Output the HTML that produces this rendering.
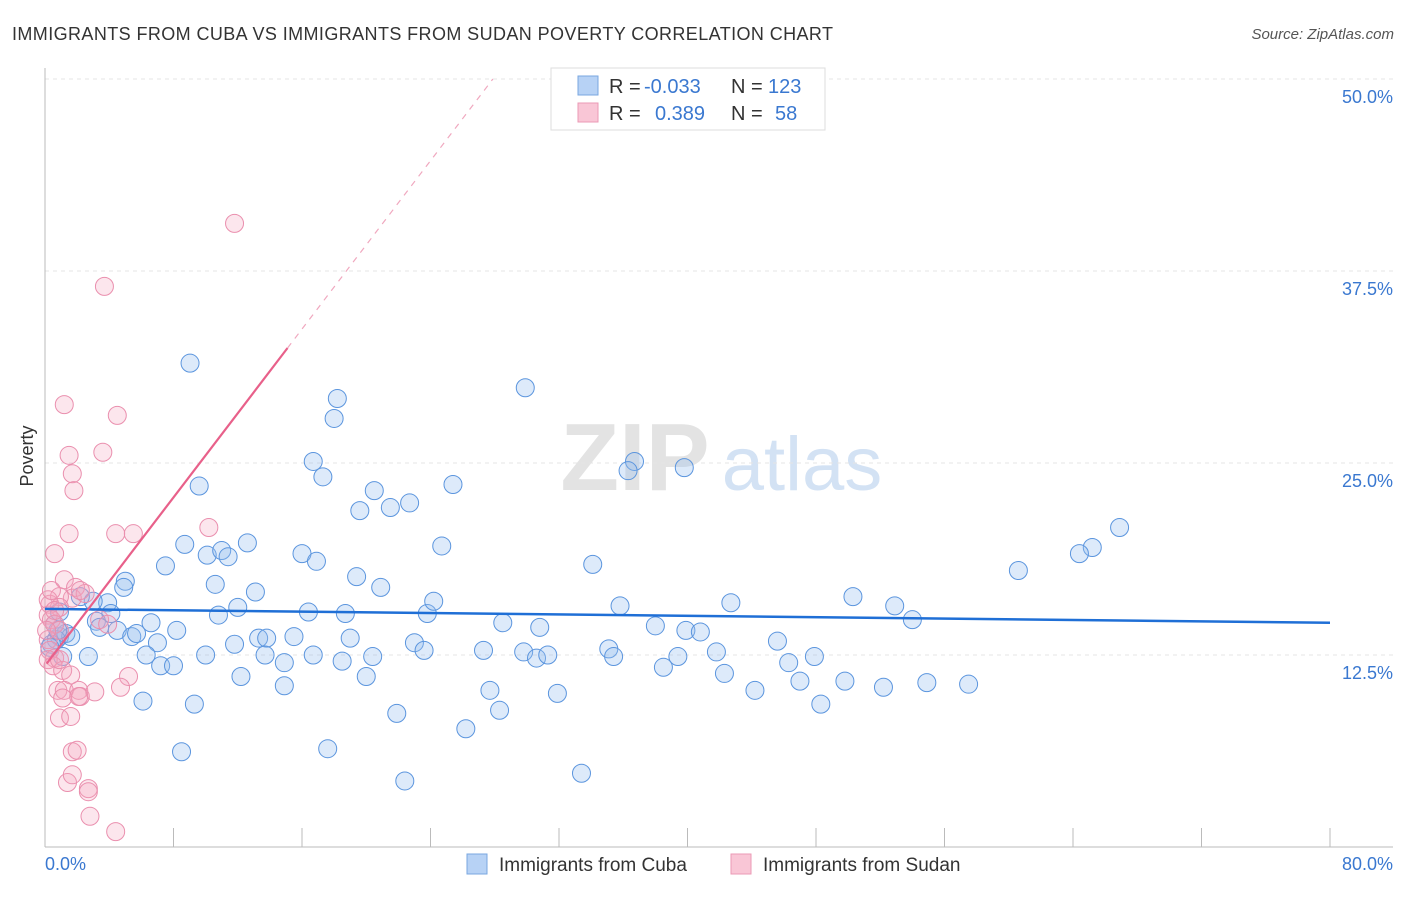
<!DOCTYPE html>
<html><head><meta charset="utf-8"><style>
body{margin:0;background:#fff;font-family:"Liberation Sans",sans-serif}
svg text{font-family:"Liberation Sans",sans-serif}
</style></head><body>
<svg id="chart" width="1406" height="892" xmlns="http://www.w3.org/2000/svg">
<text x="12" y="40" font-size="18" fill="#333" textLength="821" lengthAdjust="spacing">IMMIGRANTS FROM CUBA VS IMMIGRANTS FROM SUDAN POVERTY CORRELATION CHART</text>
<text x="1394" y="39" font-size="15" fill="#555" font-style="italic" text-anchor="end">Source: ZipAtlas.com</text>
<g>
<text x="635" y="490" font-size="96" fill="#e3e3e3" font-family="Liberation Serif" text-anchor="middle" font-weight="bold">ZIP</text>
<text x="802" y="490" font-size="76" fill="#d3e2f4" text-anchor="middle">atlas</text>
</g>
<g id="grid"></g>
<g id="axes"></g>
<g id="pts"></g>
<g id="trends"></g>
<text transform="translate(33,456) rotate(-90)" font-size="18" fill="#333" text-anchor="middle">Poverty</text>
<g>
<rect x="551" y="68" width="274" height="62" fill="#fff" stroke="#ddd"/>
<rect x="578" y="76" width="20" height="19" fill="#b7d2f5" stroke="#7aa7e0"/>
<rect x="578" y="103" width="20" height="19" fill="#f9c6d6" stroke="#eb9ab5"/>
<text x="609" y="93" font-size="20" fill="#333">R = <tspan fill="#3a78d0" x="644">-0.033</tspan></text>
<text x="731" y="93" font-size="20" fill="#333">N = <tspan fill="#3a78d0" x="768">123</tspan></text>
<text x="609" y="120" font-size="20" fill="#333">R = <tspan fill="#3a78d0" x="655">0.389</tspan></text>
<text x="731" y="120" font-size="20" fill="#333">N = <tspan fill="#3a78d0" x="775">58</tspan></text>
</g>
<g>
<rect x="467" y="854" width="20" height="20" fill="#b7d2f5" stroke="#7aa7e0"/>
<text x="499" y="871" font-size="19" fill="#333">Immigrants from Cuba</text>
<rect x="731" y="854" width="20" height="20" fill="#f9c6d6" stroke="#eb9ab5"/>
<text x="763" y="871" font-size="19" fill="#333">Immigrants from Sudan</text>
</g>
</svg>
<script>
const cubaX=[9.03,29.9,18.2,18.0,16.7,17.3,36.7,36.3,39.8,9.6,20.5,25.4,19.6,21.5,22.7,66.9,65.2,64.4,60.6,8.7,10.1,11.0,11.4,12.6,16.0,16.9,24.7,7.5,5.0,4.9,10.6,13.1,19.4,20.9,34.1,3.9,3.0,2.2,4.1,6.6,10.8,12.0,16.4,18.7,23.8,24.2,28.5,30.8,35.8,42.7,50.3,52.9,54.0,3.2,3.4,4.5,5.4,5.7,7.0,8.2,11.8,13.3,13.8,15.5,19.0,23.0,23.6,27.3,29.8,30.6,31.3,35.1,35.4,38.0,39.9,40.8,41.8,45.6,47.9,39.4,46.3,0.9,1.3,1.6,0.7,0.4,0.8,1.1,2.7,6.3,7.2,8.0,10.0,13.7,14.9,16.7,18.5,20.4,14.9,12.2,20.0,27.7,31.9,38.5,42.3,44.2,47.0,49.8,52.2,54.9,57.5,6.1,9.3,28.3,21.9,48.3,26.2,8.5,17.6,22.4,33.4,0.3,0.6,0.9];
const cubaY=[31.5,29.9,29.2,27.9,25.1,24.1,25.1,24.5,24.7,23.5,23.2,23.6,21.9,22.1,22.4,20.8,19.5,19.1,18.0,19.7,19.0,19.3,18.9,19.8,19.1,18.6,19.6,18.3,17.3,16.9,17.1,16.6,17.6,16.9,18.4,15.9,16.0,16.3,15.2,14.6,15.1,15.6,15.3,15.2,15.2,16.0,14.6,14.3,15.7,15.9,16.3,15.7,14.8,14.7,14.3,14.1,13.7,13.9,13.3,14.1,13.2,13.6,13.6,13.7,13.6,13.3,12.8,12.8,12.7,12.3,12.5,12.9,12.4,14.4,14.1,14.0,12.7,13.4,12.4,12.4,12.0,13.7,13.9,13.7,13.5,13.2,14.1,12.4,12.4,12.5,11.8,11.8,12.5,12.5,12.0,12.5,12.1,12.4,10.5,11.1,11.1,10.2,10.0,11.7,11.3,10.2,10.8,10.8,10.4,10.7,10.6,9.5,9.3,8.9,8.7,9.3,7.7,6.2,6.4,4.3,4.8,13.0,14.5,15.3];
const sudanX=[11.8,3.7,1.2,4.5,1.5,3.6,1.7,1.8,1.5,4.4,5.5,10.2,0.6,1.2,1.9,1.7,2.5,2.2,0.9,0.3,0.9,0.2,0.4,0.6,0.9,0.2,0.3,0.6,0.2,0.5,1.1,1.6,5.2,4.7,0.8,1.2,2.1,2.2,3.1,1.1,0.9,1.6,1.7,2.0,1.4,1.7,2.7,2.7,2.8,4.4,0.2,0.4,0.9,0.1,3.4,3.9,0.6,2.1];
const sudanY=[40.6,36.5,28.8,28.1,25.5,25.7,24.3,23.2,20.4,20.4,20.4,20.8,19.1,17.4,16.9,16.2,16.5,16.7,16.3,15.8,15.6,15.1,14.8,14.5,14.1,13.5,12.8,12.3,12.2,11.8,11.5,11.2,11.1,10.4,10.2,10.2,10.2,9.8,10.1,9.7,8.4,8.5,6.2,6.3,4.2,4.7,3.8,3.6,2.0,1.0,16.1,16.7,12.2,14.1,14.8,14.5,15.4,9.8];
const yTicks=[12.5,25.0,37.5,50.0];
const xTickVals=[0,8,16,24,32,40,48,56,64,72,80];
const cubaTrend=[15.5,14.6];
const sudanTrend=[11.8,1.37];
const sudanSolidEnd=15.1;
const NS="http://www.w3.org/2000/svg";
const X0=45,X1=1330,Y0=847,Y50=79;
const sx=v=>X0+(v/80)*(X1-X0);
const sy=v=>Y0-(v/50)*(Y0-Y50);
function mk(tag,attrs,parent){const e=document.createElementNS(NS,tag);for(const k in attrs)e.setAttribute(k,attrs[k]);parent.appendChild(e);return e;}
const grid=document.getElementById('grid'),axes=document.getElementById('axes'),pts=document.getElementById('pts'),tr=document.getElementById('trends');
yTicks.forEach(t=>{
 const l=mk('line',{x1:X0,x2:1393,y1:sy(t),y2:sy(t),stroke:'#e4e4e4','stroke-dasharray':'4 4'},grid);
 
 
 const tx=mk('text',{x:1393,y:sy(t)+24,'font-size':18,fill:'#3a78d0','text-anchor':'end'},axes);
 tx.textContent=t.toFixed(1)+'%';
 
 
});
const ax=mk('line',{x1:X0,x2:X0,y1:68,y2:Y0,stroke:'#bbb'},axes);


const bx=mk('line',{x1:X0,x2:1393,y1:Y0,y2:Y0,stroke:'#bbb'},axes);


xTickVals.forEach(v=>{
 const t=mk('line',{x1:sx(v),x2:sx(v),y1:828,y2:Y0,stroke:'#bbb'},axes);
 
 
});
[[0,'0.0%','start',45],[80,'80.0%','end',1393]].forEach(d=>{
 const t=mk('text',{x:d[3],y:870,'font-size':18,fill:'#3a78d0','text-anchor':d[2]},axes);
 t.textContent=d[1];
 
 
});
cubaX.forEach((x,i)=>{
 const c=mk('circle',{cx:sx(x),cy:sy(cubaY[i]),r:9,fill:'rgba(150,190,240,0.32)',stroke:'#5b95de','stroke-width':1},pts);
 
 
});
sudanX.forEach((x,i)=>{
 const c=mk('circle',{cx:sx(x),cy:sy(sudanY[i]),r:9,fill:'rgba(245,165,192,0.28)',stroke:'#ea8fae','stroke-width':1},pts);
 
 
});
const bl=mk('line',{x1:sx(0),y1:sy(cubaTrend[0]),x2:sx(80),y2:sy(cubaTrend[1]),stroke:'#1f6fd6','stroke-width':2.5},tr);


const pf=x=>sudanTrend[0]+sudanTrend[1]*x;
const xEnd=(50-sudanTrend[0])/sudanTrend[1];
const ps=mk('line',{x1:sx(0.1),y1:sy(pf(0.1)),x2:sx(sudanSolidEnd),y2:sy(pf(sudanSolidEnd)),stroke:'#e8608a','stroke-width':2.2},tr);


const pd=mk('line',{x1:sx(sudanSolidEnd),y1:sy(pf(sudanSolidEnd)),x2:sx(xEnd),y2:sy(50),stroke:'#f0a8bf','stroke-width':1.2,'stroke-dasharray':'6 6'},tr);


</script>
</body></html>
